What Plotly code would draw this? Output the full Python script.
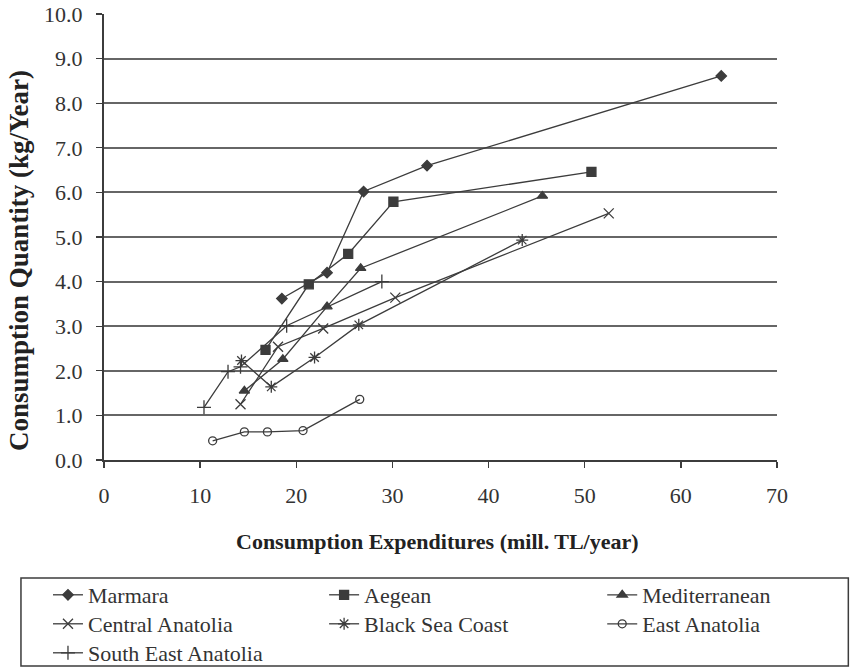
import plotly.graph_objects as go

# ---- data ----
marmara_x = [18.5, 23.2, 27.0, 33.6, 64.2]
marmara_y = [3.62, 4.20, 6.02, 6.60, 8.61]

aegean_x = [16.8, 21.3, 25.4, 30.1, 50.7]
aegean_y = [2.47, 3.94, 4.62, 5.79, 6.46]

mediterranean_x = [14.6, 18.6, 23.2, 26.7, 45.6]
mediterranean_y = [1.55, 2.26, 3.44, 4.30, 5.92]

central_x = [14.2, 18.1, 22.8, 30.3, 52.5]
central_y = [1.25, 2.54, 2.95, 3.64, 5.53]

blacksea_x = [14.3, 17.4, 21.9, 26.5, 43.5]
blacksea_y = [2.23, 1.64, 2.30, 3.03, 4.93]

east_x = [11.3, 14.6, 17.0, 20.7, 26.6]
east_y = [0.43, 0.63, 0.63, 0.66, 1.36]

southeast_x = [10.4, 12.9, 14.2, 19.0, 28.9]
southeast_y = [1.18, 1.98, 2.09, 3.01, 4.00]

x_ticks = [0, 10, 20, 30, 40, 50, 60, 70]
y_ticks = [0, 1, 2, 3, 4, 5, 6, 7, 8, 9, 10]

FONT = "Liberation Serif, Times New Roman, serif"
INK = "#333333"
LINE = "#3c3c3c"
GRID = "#666666"

W, H = 852, 668
L, T = 104, 14
plot_right = 776.7
plot_bottom = 460
R = W - plot_right
B = H - plot_bottom
pw = plot_right - L
ph = plot_bottom - T


def px_x(p):
    return (p - L) / pw


def px_y(p):
    return (plot_bottom - p) / ph


# legend grid: column left edges and row centres (px)
col_left = [48, 324, 602]
row_mid = [595, 624, 653]

series = [
    ("Marmara", marmara_x, marmara_y, "diamond", 8, 0, 0),
    ("Aegean", aegean_x, aegean_y, "square", 9, 1, 0),
    ("Mediterranean", mediterranean_x, mediterranean_y, "triangle-up", 9, 2, 0),
    ("Central Anatolia", central_x, central_y, "x-thin-open", 10, 0, 1),
    ("Black Sea Coast", blacksea_x, blacksea_y, "asterisk-open", 10, 1, 1),
    ("East Anatolia", east_x, east_y, "circle-open", 8, 2, 1),
    ("South East Anatolia", southeast_x, southeast_y, "cross-thin-open", 10, 0, 2),
]

fig = go.Figure()
legends = {}
for i, (name, xs, ys, sym, size, col, row) in enumerate(series):
    leg = "legend" if i == 0 else f"legend{i + 1}"
    fig.add_trace(go.Scatter(
        x=xs, y=ys, name=name, mode="lines+markers",
        line=dict(color=LINE, width=1.3),
        marker=dict(symbol=sym, size=size, color=LINE,
                    line=dict(color=LINE, width=1.3)),
        legend=leg,
    ))
    legends[leg] = dict(
        x=px_x(col_left[col]), y=px_y(row_mid[row]),
        xanchor="left", yanchor="middle",
        bgcolor="rgba(0,0,0,0)", borderwidth=0,
        font=dict(family=FONT, size=22, color=INK),
        orientation="v",
    )

fig.update_layout(
    width=W, height=H,
    margin=dict(l=L, r=R, t=T, b=B, autoexpand=False),
    paper_bgcolor="white", plot_bgcolor="white",
    font=dict(family=FONT, size=22, color=INK),
    showlegend=True,
    hovermode=False,
    xaxis=dict(
        range=[0, 70], tickvals=x_ticks, ticktext=[str(v) for v in x_ticks],
        showgrid=False, zeroline=False,
        showline=True, linecolor=LINE, linewidth=2,
        ticks="outside", ticklen=6, tickwidth=1.3, tickcolor=LINE,
        tickfont=dict(family=FONT, size=22, color=INK),
        ticklabelstandoff=9, ticklabeloverflow="allow",
    ),
    yaxis=dict(
        range=[0, 10], tickvals=y_ticks, ticktext=[f"{v:.1f}" for v in y_ticks],
        showgrid=True, gridcolor=GRID, gridwidth=2, zeroline=False,
        showline=True, linecolor=LINE, linewidth=2,
        ticks="outside", ticklen=6, tickwidth=1.3, tickcolor=LINE,
        tickfont=dict(family=FONT, size=22, color=INK),
        ticklabelstandoff=9, ticklabeloverflow="allow",
    ),
    shapes=[dict(
        type="rect", xref="paper", yref="paper",
        x0=px_x(21), x1=px_x(848), y0=px_y(666), y1=px_y(578),
        line=dict(color=LINE, width=1.5), fillcolor="rgba(0,0,0,0)",
    )],
    annotations=[
        dict(text="<b>Consumption Expenditures (mill. TL/year)</b>",
             xref="paper", yref="paper", x=px_x(437.5), y=px_y(541),
             xanchor="center", yanchor="middle", showarrow=False,
             font=dict(family=FONT, size=22, color="#222222")),
        dict(text="<b>Consumption Quantity (kg/Year)</b>",
             xref="paper", yref="paper", x=px_x(19), y=px_y(260),
             xanchor="center", yanchor="middle", showarrow=False, textangle=-90,
             font=dict(family=FONT, size=27, color="#222222")),
    ],
    **legends,
)

fig.write_html(
    "out.html",
    config={"displayModeBar": False, "staticPlot": True},
    post_script="document.body.style.margin='0';document.body.style.overflow='hidden';",
)
